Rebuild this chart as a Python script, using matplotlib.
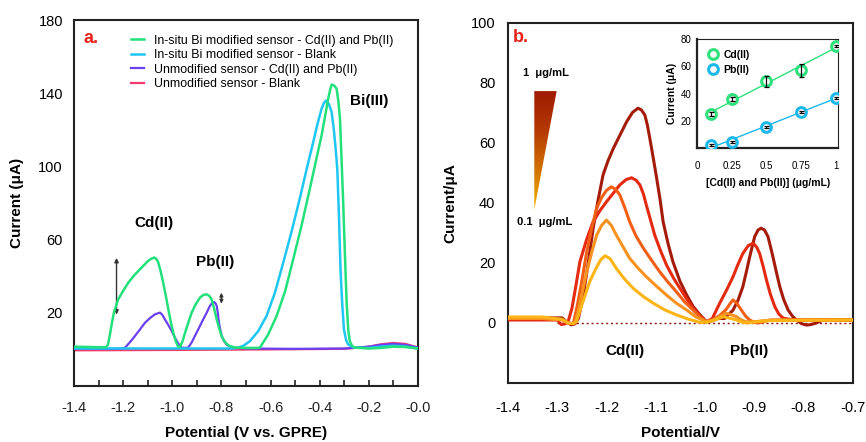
import numpy as np
import matplotlib
matplotlib.use("Agg")
import matplotlib.pyplot as plt
from matplotlib.patches import Polygon
from matplotlib.colors import LinearSegmentedColormap

plt.rcParams['font.family'] = ['Liberation Sans', 'DejaVu Sans']
plt.rcParams['axes.unicode_minus'] = False

# ---------------- Panel a data ----------------
green_x = [-1.4, -1.3, -1.27, -1.262, -1.254, -1.245, -1.237, -1.22, -1.2, -1.179, -1.158, -1.138, -1.117, -1.098,
           -1.085, -1.073, -1.064, -1.057, -1.047, -1.037, -1.026, -1.016, -1.006, -0.996, -0.986, -0.976,
           -0.968, -0.958, -0.948, -0.935, -0.921, -0.904, -0.887, -0.873, -0.86, -0.849, -0.84, -0.83,
           -0.819, -0.809, -0.799, -0.786, -0.772, -0.745, -0.7, -0.66, -0.643, -0.61, -0.575, -0.54,
           -0.5075, -0.473, -0.44, -0.415, -0.392, -0.377, -0.365, -0.357, -0.351, -0.341, -0.331, -0.324,
           -0.317, -0.311, -0.304, -0.297, -0.29, -0.283, -0.277, -0.268, -0.258, -0.2, -0.15, -0.1, -0.05, 0.0]
green_y = [1.5, 1.2, 1.2, 2.5, 8, 15, 20.5, 27.4, 32, 36.5, 40, 42.9, 45.8, 48.4,
           49.6, 50.2, 49.3, 47.5, 42.5, 36.5, 29, 21.9, 15, 9.1, 4.5, 1.5,
           1.5, 4.5, 9.1, 14.5, 20.1, 24.8, 28.3, 29.8, 30.1, 29.2, 27.4, 22.5,
           16.4, 11.5, 7.3, 4.2, 2.2, 1, 0.8, 0.8, 1, 8, 18.3, 32,
           49.3, 68, 87.7, 103, 116.9, 128, 137, 142, 144.7, 144.2, 142.5, 136,
           126, 105, 80.4, 52, 25.6, 10, 4.5, 2, 1, 0.5, 0.8, 1.5, 1.3, 0.5]

blue_x = [-1.4, -1.0, -0.76, -0.735, -0.71, -0.684, -0.65, -0.616, -0.582, -0.548, -0.513, -0.478, -0.452,
          -0.426, -0.409, -0.392, -0.383, -0.374, -0.362, -0.351, -0.342, -0.335, -0.328, -0.321, -0.315,
          -0.308, -0.301, -0.292, -0.284, -0.26, -0.2, -0.15, -0.1, -0.05, 0.0]
blue_y = [0.5, 0.5, 0.5, 0.8, 2, 4.5, 10, 18.3, 31, 47.5, 65, 84, 99,
          113.3, 123, 131.5, 134.5, 136, 134, 129.7, 120, 110, 98.6, 72, 43.8,
          25, 11, 5, 2.7, 1, 0.8, 1.5, 2, 1.6, 0.5]

purple_x = [-1.4, -1.25, -1.2, -1.192, -1.172, -1.152, -1.131, -1.111, -1.09, -1.07, -1.05, -1.04, -1.03,
            -1.016, -1.002, -0.992, -0.982, -0.972, -0.962, -0.95, -0.935, -0.921, -0.908, -0.891, -0.874,
            -0.86, -0.847, -0.838, -0.83, -0.824, -0.819, -0.814, -0.81, -0.804, -0.799, -0.789, -0.779,
            -0.757, -0.7, -0.5, -0.3, -0.2, -0.15, -0.1, -0.05, 0.0]
purple_y = [0.5, 0.3, 0.5, 1, 4, 7.3, 11, 14.6, 17.2, 19.2, 20.1, 18.8, 16.4,
            13.3, 10, 7.2, 4.6, 2.5, 1, 0.8, 1, 3.8, 7.3, 11.8, 16.4,
            20, 23.7, 25.3, 25.9, 25.2, 23.7, 19.5, 14.6, 10.5, 7.3, 4.5, 2.7,
            1, 0.5, 0.3, 0.5, 1.5, 2.5, 3, 2.5, 1]

pink_x = [-1.4, -1.0, -0.6, -0.3, -0.2, -0.15, -0.1, -0.05, 0.0]
pink_y = [-0.5, -0.3, 0, 0.3, 1.5, 2.8, 3.5, 3, 1]

legend_a = ["In-situ Bi modified sensor - Cd(II) and Pb(II)",
            "In-situ Bi modified sensor - Blank",
            "Unmodified sensor - Cd(II) and Pb(II)",
            "Unmodified sensor - Blank"]

# ---------------- Panel b data ----------------
c100_x = [-1.4, -1.33, -1.29, -1.282, -1.272, -1.264, -1.257, -1.247, -1.237, -1.227, -1.217, -1.207, -1.197,
          -1.186, -1.173, -1.159, -1.147, -1.136, -1.129, -1.122, -1.117, -1.112, -1.105, -1.098, -1.091,
          -1.085, -1.075, -1.065, -1.051, -1.037, -1.024, -1.01, -0.997, -0.985, -0.975, -0.96, -0.943,
          -0.933, -0.923, -0.916, -0.909, -0.904, -0.899, -0.892, -0.886, -0.879, -0.872, -0.867, -0.862,
          -0.855, -0.848, -0.84, -0.831, -0.822, -0.814, -0.804, -0.794, -0.784, -0.774, -0.76, -0.7]
c100_y = [1.7, 1.7, 1.7, 0.5, -0.6, -0.3, 1.5, 9.3, 20, 31.6, 41, 49.3, 54,
          58.2, 62.5, 67.1, 70.2, 71.6, 71, 69.3, 66, 61.6, 55, 48.2, 41,
          33.8, 26.5, 20.4, 14, 9.3, 5.5, 2.7, 0.5, 0.7, 1.5, 1.5, 4.3,
          7.5, 12.1, 17, 22.1, 25.5, 28.8, 31, 31.6, 31, 28.8, 25.5, 22.1,
          17, 12.1, 7.8, 4.3, 2.2, 1, -0.2, -0.7, -0.5, 0, 1, 1]

c075_x = [-1.4, -1.33, -1.3, -1.292, -1.284, -1.278, -1.27, -1.262, -1.254, -1.24, -1.227, -1.213, -1.2,
          -1.186, -1.173, -1.16, -1.149, -1.14, -1.132, -1.125, -1.119, -1.11, -1.102, -1.09, -1.078,
          -1.064, -1.051, -1.037, -1.024, -1.01, -0.997, -0.985, -0.97, -0.956, -0.943, -0.933, -0.923,
          -0.912, -0.902, -0.895, -0.889, -0.882, -0.875, -0.867, -0.858, -0.85, -0.841, -0.82, -0.7]
c075_y = [1, 1, 1, -0.5, -0.3, 0.4, 5, 12.5, 20.4, 28, 33.8, 37.5, 40.4,
          43.3, 46, 47.8, 48.4, 47.6, 46, 43, 39.3, 34, 29.3, 24, 19.3,
          15, 11.6, 8, 4.9, 2.3, 0.4, 1.5, 6.6, 11, 15.4, 19.5, 23.2,
          25.8, 26.6, 25.3, 23.2, 19, 14.3, 9.5, 5.4, 3, 1.6, 1, 1]

c050_x = [-1.4, -1.33, -1.29, -1.28, -1.272, -1.267, -1.259, -1.25, -1.24, -1.23, -1.22, -1.21, -1.2,
          -1.19, -1.181, -1.173, -1.163, -1.153, -1.14, -1.125, -1.108, -1.092, -1.075, -1.058, -1.041,
          -1.024, -1.01, -0.997, -0.983, -0.97, -0.957, -0.95, -0.943, -0.935, -0.926, -0.917, -0.909,
          -0.9, -0.892, -0.88, -0.868, -0.8, -0.7]
c050_y = [1.5, 1.5, 1.2, 0.3, -0.2, 0, 6, 14, 23.8, 31.5, 38.2, 41.8, 44.2,
          45.4, 44.5, 42.7, 38.5, 33.8, 29, 24.9, 20.8, 17.1, 13.6, 10.4, 7,
          4.3, 2, 0.4, 1.2, 2.5, 4.5, 6.2, 7.7, 6.5, 4.3, 2.2, 1,
          0.2, 0, 0.5, 1, 1, 1]

c025_x = [-1.4, -1.33, -1.29, -1.278, -1.27, -1.264, -1.256, -1.248, -1.24, -1.23, -1.22, -1.21, -1.2,
          -1.19, -1.18, -1.166, -1.153, -1.136, -1.119, -1.098, -1.078, -1.058, -1.037, -1.018, -0.997,
          -0.983, -0.97, -0.957, -0.947, -0.936, -0.926, -0.916, -0.9, -0.88, -0.85, -0.7]
c025_y = [1.5, 1.5, 1, 0, -0.2, 0, 5, 11, 17.1, 23.5, 29.3, 32.5, 34.3,
          32.5, 29.3, 25.3, 21.6, 18.3, 15.4, 12.2, 9.3, 6.6, 4.3, 2, 0.4,
          1, 2.2, 3.2, 2.8, 2.1, 1, 0.4, 0.4, 0.8, 1, 1]

c010_x = [-1.4, -1.33, -1.29, -1.278, -1.268, -1.261, -1.25, -1.234, -1.222, -1.212, -1.203, -1.193, -1.18,
          -1.163, -1.146, -1.125, -1.105, -1.082, -1.058, -1.034, -1.01, -0.995, -0.98, -0.963, -0.95,
          -0.936, -0.925, -0.916, -0.9, -0.87, -0.7]
c010_y = [2, 2, 1.2, 0, -0.2, 0.5, 6, 13.8, 18, 21, 22.4, 21.5, 18.2,
          14.6, 11.6, 8.8, 6.6, 4.4, 2.7, 1.3, 0.2, 0.3, 1, 2.1, 1.6,
          1, 0.3, 0, 0.3, 0.8, 1]

# Inset data
conc = [0.1, 0.25, 0.5, 0.75, 1.0]
cd_current = [25, 36, 49, 57, 75]
cd_err = [1.5, 1.5, 4, 5, 1]
pb_current = [2, 4.5, 15.5, 26.5, 37]
pb_err = [0.8, 0.8, 0.8, 0.8, 0.8]
inset_xticks = [0, 0.25, 0.5, 0.75, 1]
inset_xticklabels = ["0", "0.25", "0.5", "0.75", "1"]

# ---------------- Figure ----------------
fig = plt.figure(figsize=(8.66, 4.42), dpi=100)

spine_col = '#222222'

# Panel a
axa = fig.add_axes([0.0855, 0.1267, 0.397, 0.828])
axa.plot(pink_x, pink_y, color='#f23a6e', lw=1.6, label=legend_a[3], zorder=2)
axa.plot(purple_x, purple_y, color='#6a40f0', lw=1.6, label=legend_a[2], zorder=3)
axa.plot(blue_x, blue_y, color='#1ec6f2', lw=1.8, label=legend_a[1], zorder=4)
axa.plot(green_x, green_y, color='#22e07a', lw=1.8, label=legend_a[0], zorder=5)
axa.set_xlim(-1.4, 0.0)
axa.set_ylim(-20, 180)
axa.set_xticks(np.arange(-1.4, 0.01, 0.2))
axa.set_xticklabels([f"{v:.1f}" for v in np.arange(-1.4, 0.01, 0.2)])
axa.set_xticks(np.arange(-1.3, 0.0, 0.2), minor=True)
axa.set_yticks([20, 60, 100, 140, 180])
axa.tick_params(axis='x', which='both', direction='in', length=4, width=1.2, pad=11, labelsize=10.5, colors=spine_col)
axa.tick_params(axis='y', which='both', length=0, pad=8, labelsize=10.5)
for s in axa.spines.values():
    s.set_linewidth(1.5)
    s.set_color(spine_col)
axa.set_xlabel("Potential (V vs. GPRE)", fontsize=11, fontweight='bold', labelpad=8)
axa.set_ylabel("Current (μA)", fontsize=11, fontweight='bold', labelpad=10)
h, l = axa.get_legend_handles_labels()
axa.legend(h[::-1], l[::-1], loc='upper left', bbox_to_anchor=(0.165, 0.96), frameon=False,
           fontsize=8.9, handlelength=1.05, handletextpad=0.8, labelspacing=0.2, borderpad=0, borderaxespad=0)
axa.text(-1.362, 170, "a.", color='#e8221a', fontsize=13, fontweight='bold', va='center', ha='left')
axa.text(-1.075, 69, "Cd(II)", fontsize=11, fontweight='bold', ha='center', va='center')
axa.text(-0.827, 48, "Pb(II)", fontsize=11, fontweight='bold', ha='center', va='center')
axa.text(-0.197, 135.5, "Bi(III)", fontsize=11, fontweight='bold', ha='center', va='center')
axa.annotate("", xy=(-1.227, 50), xytext=(-1.227, 19),
             arrowprops=dict(arrowstyle='<|-|>', color='#333333', lw=1.0, mutation_scale=6, shrinkA=0, shrinkB=0))
axa.annotate("", xy=(-0.8, 31), xytext=(-0.8, 25),
             arrowprops=dict(arrowstyle='<|-|>', color='#333333', lw=1.0, mutation_scale=5, shrinkA=0, shrinkB=0))

# Panel b
axb = fig.add_axes([0.5866, 0.1335, 0.398, 0.8145])
b_colors = ['#a51b0a', '#e42a10', '#f35e15', '#f7921e', '#fdb416']
for xs, ys, c in zip([c100_x, c075_x, c050_x, c025_x, c010_x],
                     [c100_y, c075_y, c050_y, c025_y, c010_y], b_colors):
    axb.plot(xs, ys, color=c, lw=2.2, solid_capstyle='round', solid_joinstyle='round', zorder=3)
axb.plot([-1.3, -0.7], [0, 0], color='#8a1a10', lw=1.0, ls=(0, (1.5, 2)), zorder=2)

# gradient triangle
tri = Polygon([[-1.3466, 77.3], [-1.3012, 77.3], [-1.3466, 37.7]], closed=True, transform=axb.transData,
              facecolor='none', edgecolor='none')
axb.add_patch(tri)
cmap = LinearSegmentedColormap.from_list('grad', ['#f2b300', '#d27200', '#b53a05', '#a01a00'])
grad = np.linspace(0, 1, 256).reshape(-1, 1)
im = axb.imshow(grad, extent=[-1.3466, -1.3012, 37.7, 77.3], origin='lower', cmap=cmap, aspect='auto', zorder=1)
im.set_clip_path(tri)

axb.set_xlim(-1.4, -0.7)
axb.set_ylim(-20, 100)
xt = np.round(np.arange(-1.4, -0.69, 0.1), 1)
axb.set_xticks(xt)
axb.set_xticklabels([f"{v:.1f}" for v in xt])
axb.set_yticks([0, 20, 40, 60, 80, 100])
axb.tick_params(axis='both', length=0, labelsize=10.5)
axb.tick_params(axis='x', pad=13)
axb.tick_params(axis='y', pad=9)
for s in axb.spines.values():
    s.set_linewidth(1.5)
    s.set_color(spine_col)
axb.set_xlabel("Potential/V", fontsize=11, fontweight='bold', labelpad=8)
axb.set_ylabel("Current/μA", fontsize=11, fontweight='bold', labelpad=10)
axb.text(-1.39, 95, "b.", color='#e8221a', fontsize=13, fontweight='bold', va='center', ha='left')
axb.text(-1.3696, 83.4, "1  μg/mL", fontsize=8, fontweight='bold', va='center', ha='left')
axb.text(-1.3817, 33.8, "0.1  μg/mL", fontsize=8, fontweight='bold', va='center', ha='left')
axb.text(-1.163, -9.4, "Cd(II)", fontsize=11, fontweight='bold', ha='center', va='center')
axb.text(-0.91, -9.4, "Pb(II)", fontsize=11, fontweight='bold', ha='center', va='center')

# Inset
axi = fig.add_axes([0.805, 0.665, 0.163, 0.2466])
green_c = '#2ee07a'
blue_c = '#1cb8ea'
cd_fit = np.polyfit(conc, cd_current, 1)
pb_fit = np.polyfit(conc, pb_current, 1)
fx = np.array([conc[0], conc[-1]])
axi.plot(fx, np.polyval(cd_fit, fx), color=green_c, lw=1.0, zorder=2)
axi.plot(fx, np.polyval(pb_fit, fx), color=blue_c, lw=1.0, zorder=2)
axi.plot(conc, cd_current, 'o', mfc='white', mec=green_c, mew=2.2, ms=7, label='Cd(II)', zorder=3)
axi.plot(conc, pb_current, 'o', mfc='white', mec=blue_c, mew=2.2, ms=7, label='Pb(II)', zorder=3)
axi.errorbar(conc, cd_current, yerr=cd_err, fmt='none', ecolor='black', elinewidth=0.9, capsize=1.8, capthick=0.9, zorder=4)
axi.errorbar(conc, pb_current, yerr=pb_err, fmt='none', ecolor='black', elinewidth=0.9, capsize=1.8, capthick=0.9, zorder=4)
axi.set_xlim(0, 1.02)
axi.set_ylim(0, 80)
axi.set_xticks(inset_xticks)
axi.set_xticklabels(inset_xticklabels)
axi.set_yticks([20, 40, 60, 80])
axi.tick_params(axis='both', length=0, labelsize=7)
axi.tick_params(axis='x', pad=9)
axi.tick_params(axis='y', pad=4)
axi.spines['left'].set_linewidth(1.6)
axi.spines['bottom'].set_linewidth(1.6)
axi.spines['top'].set_linewidth(0.8)
axi.spines['right'].set_linewidth(0.8)
for s in axi.spines.values():
    s.set_color(spine_col)
axi.set_xlabel("[Cd(II) and Pb(II)] (μg/mL)", fontsize=7.5, fontweight='bold', labelpad=5)
axi.set_ylabel("Current (μA)", fontsize=7.5, fontweight='bold', labelpad=3)
axi.legend(loc='upper left', frameon=False, prop={'weight': 'bold', 'size': 7.5},
           handletextpad=0.5, labelspacing=0.45, borderpad=0.55, borderaxespad=0.5, handlelength=1.0)

fig.savefig("out.png", dpi=100)
